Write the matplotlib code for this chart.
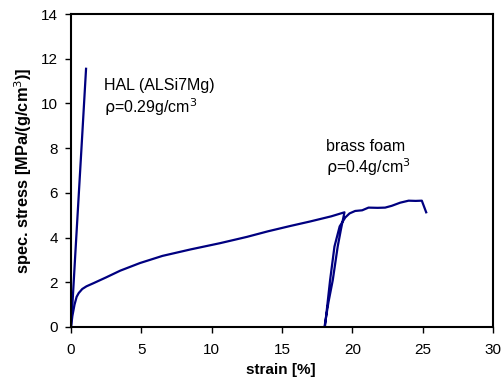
import matplotlib.pyplot as plt
import numpy as np

plt.rcParams['font.family'] = ['Liberation Sans', 'DejaVu Sans']

# HAL (AlSi7Mg) foam
hal_strain = [0.0, 0.1, 0.3, 0.55, 0.8, 1.07]
hal_stress = [0.0, 1.0, 3.2, 5.9, 8.6, 11.55]

# brass foam: loading, unloading, reloading
brass_strain = [0.0, 0.1, 0.25, 0.4, 0.55, 0.8, 1.1, 1.6, 2.5, 3.5, 4.9, 6.5,
                8.5, 10.6, 12.5, 14.0, 15.6, 17.0, 18.5, 19.44,
                19.2, 18.96, 18.61, 18.3, 18.02,
                18.05, 18.42, 18.73, 19.1, 19.5, 19.8, 20.2, 20.7, 21.15,
                21.8, 22.33, 22.8, 23.4, 24.0, 24.5, 24.94, 25.25]
brass_stress = [0.0, 0.5, 1.0, 1.35, 1.52, 1.7, 1.82, 1.96, 2.22, 2.52, 2.86, 3.18,
                3.47, 3.75, 4.03, 4.28, 4.52, 4.72, 4.95, 5.13,
                4.4, 3.6, 2.1, 1.1, 0.0,
                0.0, 2.1, 3.6, 4.5, 4.9, 5.08, 5.19, 5.22, 5.34,
                5.33, 5.34, 5.42, 5.56, 5.65, 5.64, 5.65, 5.13]

x_ticks = [0, 5, 10, 15, 20, 25, 30]
y_ticks = [0, 2, 4, 6, 8, 10, 12, 14]

fig = plt.figure(figsize=(5.02, 3.81), dpi=100, facecolor="white")
ax = fig.add_axes([71/502, 1 - 327/381, 422/502, 313/381])

ax.plot(hal_strain, hal_stress, color="#000080", lw=1.6)
ax.plot(brass_strain, brass_stress, color="#000080", lw=1.6)

ax.set_xlim(0, 30)
ax.set_ylim(0, 14)
ax.set_xticks(x_ticks)
ax.set_yticks(y_ticks)
ax.tick_params(direction="out", length=4.5, width=1, labelsize=11, colors="black")
ax.tick_params(axis="x", pad=7)
ax.tick_params(axis="y", pad=5)
for s in ax.spines.values():
    s.set_linewidth(1.5)
    s.set_color("black")

fs = 11.5
ax.text(2.35, 10.8, "HAL (ALSi7Mg)", fontsize=fs, va="center", ha="left")
ax.text(2.35, 9.84, r"$\rm\rho$=0.29g/cm$^3$", fontsize=fs, va="center", ha="left")
ax.text(18.1, 8.06, "brass foam", fontsize=fs, va="center", ha="left")
ax.text(18.1, 7.17, r"$\rm\rho$=0.4g/cm$^3$", fontsize=fs, va="center", ha="left")

fig.text(281/502, 1 - 370/381, "strain [%]", fontsize=11, fontweight="bold",
         ha="center", va="center")
fig.text(23/502, 1 - 171/381, "spec. stress [MPa/(g/cm$^3$)]", fontsize=11.8,
         fontweight="bold", rotation=90, ha="center", va="center")

fig.savefig("out.png", dpi=100)
